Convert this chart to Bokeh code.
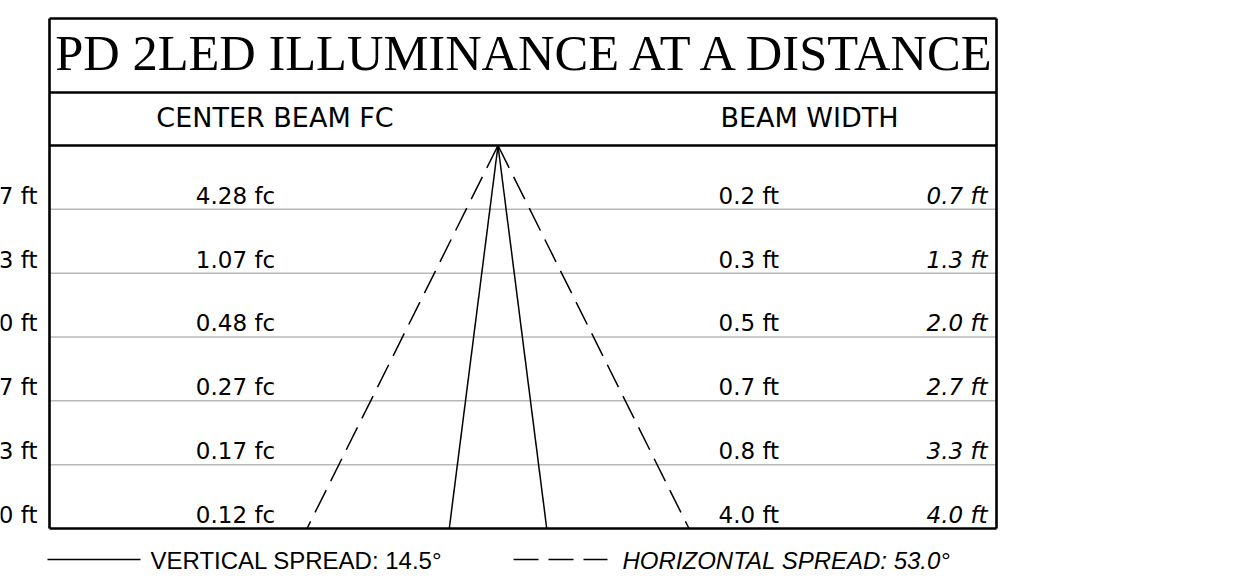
import numpy as np
from bokeh.plotting import figure
from bokeh.models import Range1d
from bokeh.core.properties import value
from bokeh.embed import file_html
from bokeh.resources import INLINE

# ---------------- data ----------------
title_text = "PD 2LED ILLUMINANCE AT A DISTANCE"
header_left = "CENTER BEAM FC"
header_right = "BEAM WIDTH"
distances_ft = [0.7, 1.3, 2.0, 2.7, 3.3, 4.0]
center_beam_fc = [4.28, 1.07, 0.48, 0.27, 0.17, 0.12]
vertical_width_ft = [0.2, 0.3, 0.5, 0.7, 0.8, 4.0]
horizontal_width_ft = [0.7, 1.3, 2.0, 2.7, 3.3, 4.0]
vertical_spread_deg = 14.5
horizontal_spread_deg = 53.0
max_distance_ft = 4.0

# ---------------- layout (page pixels -> chart feet) ----------------
W, H = 1228, 580
S = 95.75            # px per foot
APEX_PX = 497.5      # apex x (page px)
TOP_PX = 145.0       # apex y (page px)
ORIGIN = 0           # canvas offset on the page
K = 0.37             # baseline correction (fraction of font size)


def fx(px):
    return (px - APEX_PX) / S


def fy(py):
    return (py - TOP_PX) / S


def fb(py, size):
    """baseline at page y for a text of the given font size"""
    return fy(py - K * size)


p = figure(width=W, height=H, output_backend="svg", toolbar_location=None,
           x_range=Range1d(fx(ORIGIN), fx(ORIGIN + W)),
           y_range=Range1d(fy(ORIGIN + H), fy(ORIGIN)),
           x_axis_location=None, y_axis_location=None, min_border=0)
p.grid.visible = False
p.outline_line_color = None
p.background_fill_color = "white"
p.border_fill_color = "white"

n = len(distances_ft)
row_pos = np.arange(1, n + 1) * max_distance_ft / n

BOX_L, BOX_R = fx(49), fx(996)
BOX_T = fy(18)
TITLE_SEP = fy(92)

# grey row lines
p.segment(x0=[BOX_L] * (n - 1), x1=[BOX_R] * (n - 1), y0=list(row_pos[:-1]), y1=list(row_pos[:-1]),
          line_color="#b8b8b8", line_width=1.5)

# beam cone
v_half = max_distance_ft * np.tan(np.radians(vertical_spread_deg / 2))
h_half = max_distance_ft * np.tan(np.radians(horizontal_spread_deg / 2))
p.segment(x0=[0, 0], y0=[0, 0], x1=[-v_half, v_half], y1=[max_distance_ft] * 2,
          line_color="black", line_width=1.5)
p.segment(x0=[0, 0], y0=[0, 0], x1=[-h_half, h_half], y1=[max_distance_ft] * 2,
          line_color="black", line_width=1.5, line_dash="25 10")

# frame
p.segment(x0=[BOX_L, BOX_L, BOX_L, BOX_L, BOX_L, BOX_R],
          x1=[BOX_R, BOX_R, BOX_R, BOX_R, BOX_L, BOX_R],
          y0=[BOX_T, TITLE_SEP, 0, max_distance_ft, BOX_T, BOX_T],
          y1=[BOX_T, TITLE_SEP, 0, max_distance_ft, max_distance_ft, max_distance_ft],
          line_color="black", line_width=2.6)

# title and headers
p.text(x=[fx(527.5)], y=[fb(71, 50.5)], text=[title_text], text_align="center",
       text_baseline="alphabetic", text_font=value("Liberation Serif"),
       text_font_size="50.5px", text_color="black")
p.text(x=[fx(274.5), fx(809)], y=[fb(127, 27)] * 2, text=[header_left, header_right],
       text_align="center", text_baseline="alphabetic", text_font=value("DejaVu Sans"),
       text_font_size="27px", text_color="black")

# row texts
base = list(row_pos - (5 + K * 23) / S)
DATA_FONT = value("DejaVu Sans")
p.text(x=[fx(37)] * n, y=base, text=[f"{d:.1f} ft" for d in distances_ft],
       text_align="right", text_baseline="alphabetic", text_font=DATA_FONT,
       text_font_size="23px", text_color="black")
p.text(x=[fx(235)] * n, y=base, text=[f"{v:.2f} fc" for v in center_beam_fc],
       text_align="center", text_baseline="alphabetic", text_font=DATA_FONT,
       text_font_size="23px", text_color="black")
p.text(x=[fx(718)] * n, y=base, text=[f"{v:.1f} ft" for v in vertical_width_ft],
       text_align="left", text_baseline="alphabetic", text_font=DATA_FONT,
       text_font_size="23px", text_color="black")
p.text(x=[fx(987)] * n, y=base, text=[f"{v:.1f} ft" for v in horizontal_width_ft],
       text_align="right", text_baseline="alphabetic", text_font=DATA_FONT,
       text_font_style="italic", text_font_size="23px", text_color="black")

# legend
p.segment(x0=[fx(47)], x1=[fx(140)], y0=[fy(559)], y1=[fy(559)], line_color="black", line_width=1.5)
p.segment(x0=[fx(513)], x1=[fx(607)], y0=[fy(559)], y1=[fy(559)], line_color="black",
          line_width=1.5, line_dash="25 10")
LEG_FONT = value("Liberation Sans")
p.text(x=[fx(150)], y=[fb(569, 24)], text=[f"VERTICAL SPREAD: {vertical_spread_deg:.1f}°"],
       text_align="left", text_baseline="alphabetic", text_font=LEG_FONT,
       text_font_size="24px", text_color="black")
p.text(x=[fx(622)], y=[fb(569, 24)], text=[f"HORIZONTAL SPREAD: {horizontal_spread_deg:.1f}°"],
       text_align="left", text_baseline="alphabetic", text_font=LEG_FONT,
       text_font_style="italic", text_font_size="24px", text_color="black")

open("out.html", "w").write(file_html(p, INLINE))
